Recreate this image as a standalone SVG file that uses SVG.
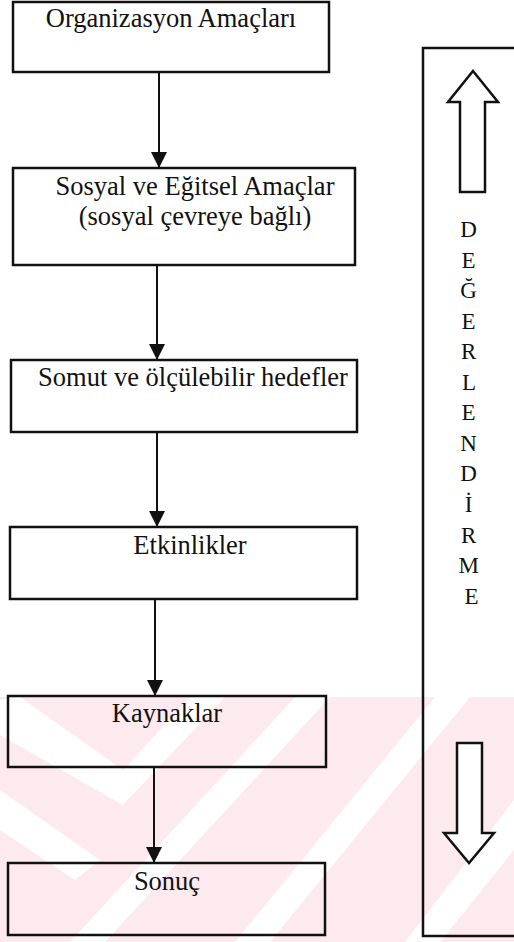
<svg xmlns="http://www.w3.org/2000/svg" width="514" height="942" viewBox="0 0 514 942">
  <style>
    .box { fill: none; stroke: #111; stroke-width: 2.5; }
    .lbl { font-family: "Liberation Serif", "Times New Roman", serif; font-size: 26.5px; fill: #111; text-anchor: middle; }
    .vert { font-family: "Liberation Serif", "Times New Roman", serif; font-size: 23px; fill: #111; text-anchor: middle; }
    .link { fill: none; stroke: #111; stroke-width: 2; marker-end: url(#head); }
    .big { fill: white; stroke: #111; stroke-width: 2.5; stroke-linejoin: miter; }
    .band { fill: #ffffff; }
  </style>
  <defs>
    <marker id="head" markerUnits="userSpaceOnUse" markerWidth="18" markerHeight="18" viewBox="0 0 18 16" refX="16" refY="8" orient="auto">
      <path d="M0,0 L16,8 L0,16 Z" fill="#111"/>
    </marker>
  </defs>

  <rect width="514" height="942" fill="#ffffff"/>

  <!-- light pink background band with white diagonal stripes -->
  <g id="backdrop">
    <rect x="0" y="697" width="514" height="245" fill="#fdeaee"/>
    <polygon class="band" points="0,700 0,735 123,805 225,697 190,697 123,770 20,697"/>
    <polygon class="band" points="0,790 0,830 75,880 100,860"/>
    <polygon class="band" points="70,942 105,942 330,697 295,697"/>
    <polygon class="band" points="235,942 270,942 470,697 435,697"/>
    <polygon class="band" points="405,942 440,942 514,850 514,800"/>
  </g>

  <g id="connectors">
    <path class="link" d="M159,72 V168"/>
    <path class="link" d="M157,265 V360"/>
    <path class="link" d="M157,432 V527"/>
    <path class="link" d="M155,599 V696"/>
    <path class="link" d="M154,767 V863"/>
  </g>

  <g id="organizasyon-amaclari">
    <rect class="box" x="13" y="2" width="316" height="70"/>
    <text class="lbl" x="171" y="27">Organizasyon Amaçları</text>
  </g>

  <g id="sosyal-egitsel-amaclar">
    <rect class="box" x="13" y="168" width="342" height="97"/>
    <text class="lbl" x="195" y="195">Sosyal ve Eğitsel Amaçlar</text>
    <text class="lbl" x="195" y="225">(sosyal çevreye bağlı)</text>
  </g>

  <g id="somut-hedefler">
    <rect class="box" x="11" y="360" width="346" height="72"/>
    <text class="lbl" x="193" y="386">Somut ve ölçülebilir hedefler</text>
  </g>

  <g id="etkinlikler">
    <rect class="box" x="10" y="527" width="347" height="72"/>
    <text class="lbl" x="190" y="554">Etkinlikler</text>
  </g>

  <g id="kaynaklar">
    <rect class="box" x="8" y="696" width="318" height="71"/>
    <text class="lbl" x="167" y="722">Kaynaklar</text>
  </g>

  <g id="sonuc">
    <rect class="box" x="8" y="863" width="317" height="72"/>
    <text class="lbl" x="167" y="890">Sonuç</text>
  </g>

  <g id="degerlendirme">
    <path fill="none" stroke="#111" stroke-width="2.5" d="M520,48 H423 V936 H520"/>
    <polygon class="big" points="473,71 498,102 485,102 485,192 460,192 460,102 448,102"/>
    <polygon class="big" points="457,743 482,743 482,833 494,833 469,863 444,833 457,833"/>
    <text class="vert" x="471.5">
      <tspan x="471.5" y="237">D</tspan>
      <tspan x="471.5" y="267.6">E</tspan>
      <tspan x="471.5" y="298">Ğ</tspan>
      <tspan x="471.5" y="328.6">E</tspan>
      <tspan x="471.5" y="359">R</tspan>
      <tspan x="471.5" y="389.6">L</tspan>
      <tspan x="471.5" y="420.2">E</tspan>
      <tspan x="471.5" y="450.8">N</tspan>
      <tspan x="471.5" y="481.4">D</tspan>
      <tspan x="471.5" y="512">İ</tspan>
      <tspan x="471.5" y="542.6">R</tspan>
      <tspan x="471.5" y="573.2">M</tspan>
      <tspan x="471.5" y="603.8">E</tspan>
    </text>
  </g>
</svg>
